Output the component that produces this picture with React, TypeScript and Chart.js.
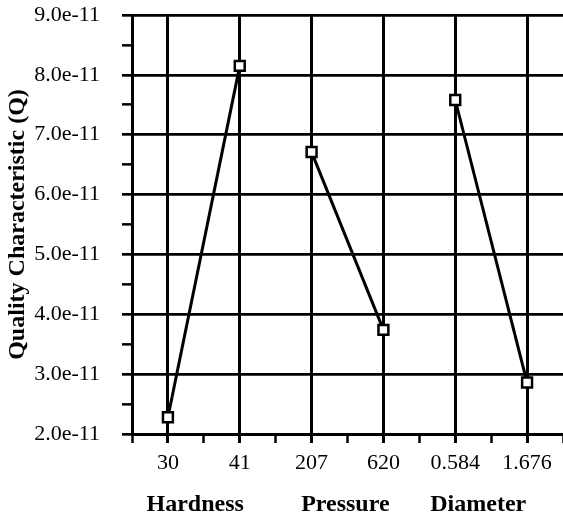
import React, { useEffect, useRef } from "react";
import { Chart, registerables } from "chart.js";

Chart.register(...registerables);

// ---- data ----
const categories = ["30", "41", "207", "620", "0.584", "1.676"];
const groups = ["Hardness", "Pressure", "Diameter"];
const hardnessQ = [2.28e-11, 8.15e-11];
const pressureQ = [6.71e-11, 3.74e-11];
const diameterQ = [7.58e-11, 2.86e-11];
const yTickMin = 2e-11;
const yTickMax = 9e-11;
const yTitle = "Quality Characteristic (Q)";

// layout helpers (positions of the group captions in category units)
const groupPos = [0.38, 2.47, 4.32];

const FONT = "'Liberation Serif', 'Times New Roman', Times, serif";

export default function App() {
  const ref = useRef<HTMLCanvasElement | null>(null);

  useEffect(() => {
    document.body.style.margin = "0";
    const canvas = ref.current;
    if (!canvas) return;
    const series = [hardnessQ, pressureQ, diameterQ];
    const datasets = series.map((vals, g) => ({
      label: groups[g],
      data: vals.map((y, i) => ({ x: g * 2 + i, y })),
      borderColor: "#000",
      borderWidth: 3,
      pointStyle: "rect" as const,
      pointRadius: 7,
      pointHoverRadius: 7,
      pointBackgroundColor: "#fff",
      pointBorderColor: "#000",
      pointBorderWidth: 2.5,
      fill: false,
      tension: 0,
      clip: false,
    }));

    const isHalfY = (v: number) => Math.round((v / 1e-11) * 2) % 2 !== 0;
    const isHalfX = (v: number) => Math.round(v * 2) % 2 !== 0;

    const chart = new Chart(canvas, {
      type: "line",
      data: { datasets },
      options: {
        animation: false,
        responsive: false,
        layout: { autoPadding: false, padding: { top: 15, left: 0, right: 0, bottom: 0 } },
        plugins: { legend: { display: false }, tooltip: { enabled: false } },
        scales: {
          x: {
            type: "linear",
            position: "bottom",
            min: -0.5,
            max: categories.length - 0.5,
            afterFit: (s: any) => {
              s.height = 40;
              s.paddingLeft = 0;
              s.paddingRight = 0;
            },
            ticks: {
              stepSize: 0.5,
              autoSkip: false,
              maxRotation: 0,
              minRotation: 0,
              padding: 7,
              color: "#000",
              font: { family: FONT, size: 22 },
              callback: (v: any) => {
                const n = Number(v);
                if (isHalfX(n)) return "";
                const idx = Math.round(n);
                return categories[idx] ?? "";
              },
            },
            grid: {
              color: (c: any) => (isHalfX(c.tick.value) ? "rgba(0,0,0,0)" : "#000"),
              lineWidth: 3,
              tickColor: "#000",
              tickWidth: (c: any) => (isHalfX(c.tick.value) ? 2.5 : 3),
              tickLength: 9,
            },
            border: { color: "#000", width: 3 },
          },
          x2: {
            type: "linear",
            position: "bottom",
            min: -0.5,
            max: categories.length - 0.5,
            afterBuildTicks: (s: any) => {
              s.ticks = groupPos.map((v) => ({ value: v }));
            },
            afterFit: (s: any) => {
              s.height = 41;
              s.paddingLeft = 0;
              s.paddingRight = 0;
            },
            ticks: {
              autoSkip: false,
              maxRotation: 0,
              minRotation: 0,
              padding: 8,
              color: "#000",
              font: { family: FONT, size: 24, weight: "bold" },
              callback: (_v: any, i: number) => groups[i] ?? "",
            },
            grid: { display: false },
            border: { display: false },
          },
          y: {
            type: "linear",
            min: yTickMin,
            max: yTickMax,
            afterFit: (s: any) => {
              s.width = 132;
              s.paddingTop = 0;
              s.paddingBottom = 0;
            },
            ticks: {
              stepSize: 0.5e-11,
              autoSkip: false,
              padding: 22,
              color: "#000",
              font: { family: FONT, size: 22 },
              callback: (v: any) => {
                const n = Number(v);
                if (isHalfY(n)) return "";
                return n.toExponential(1);
              },
            },
            grid: {
              color: (c: any) => (isHalfY(c.tick.value) ? "rgba(0,0,0,0)" : "#000"),
              lineWidth: 2.7,
              tickColor: "#000",
              tickWidth: (c: any) => (isHalfY(c.tick.value) ? 2.5 : 2.7),
              tickLength: 10,
            },
            border: { color: "#000", width: 3 },
            title: {
              display: true,
              text: yTitle,
              color: "#000",
              font: { family: FONT, size: 24, weight: "bold" },
              padding: { top: 3, bottom: 0 },
            },
          },
        },
      } as any,
    });
    return () => chart.destroy();
  }, []);

  return (
    <div style={{ position: "absolute", left: 0, top: 0, width: 563, height: 515, background: "#fff" }}>
      <canvas ref={ref} width={563} height={515} />
    </div>
  );
}
